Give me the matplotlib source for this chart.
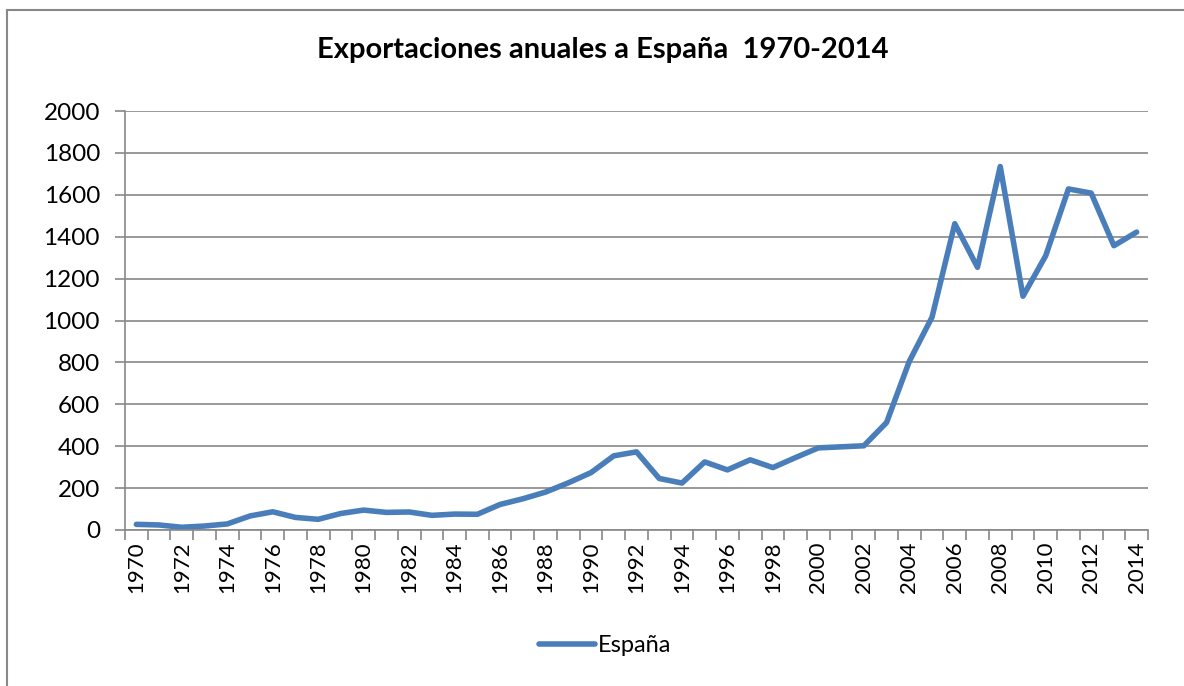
import numpy as np
import matplotlib.pyplot as plt
from matplotlib.patches import Rectangle

# Datos
anios = list(range(1970, 2015))
espana = [27, 24, 13, 19, 29, 67, 87, 60, 51, 79,
          95, 84, 86, 70, 76, 75, 122, 149, 181, 225,
          274, 354, 373, 246, 224, 325, 287, 335, 298, 346,
          392, 397, 402, 513, 805, 1016, 1462, 1254, 1735, 1116,
          1309, 1628, 1608, 1357, 1422]
etiquetas = [str(a) if a % 2 == 0 else '' for a in anios]

plt.rcParams['font.family'] = ['Lato', 'DejaVu Sans']

fig = plt.figure(figsize=(11.84, 6.86), dpi=100)
ax = fig.add_axes([125/1184, 1 - 530/686, (1148-125)/1184, (530-111)/686])

x = np.arange(len(anios))
ax.plot(x, espana, color='#4A7EBB', linewidth=4, solid_capstyle='round', label='España')

ax.set_xlim(-0.5, len(anios) - 0.5)
ax.set_ylim(0, 2000)
ax.set_yticks(range(0, 2001, 200))
ax.set_xticks(x)
ax.set_xticklabels(etiquetas, rotation=90, fontsize=16)
ax.set_xticks(np.arange(-0.5, len(anios)), minor=True)
ax.tick_params(axis='x', which='major', length=0, pad=8)
ax.tick_params(axis='x', which='minor', length=7, color='#888888', width=1.2)
ax.tick_params(axis='y', length=7, color='#888888', width=1.2, labelsize=17.5, pad=11)

ax.grid(axis='y', color='#888888', linewidth=1.2)
ax.set_axisbelow(True)
for s in ['top', 'right']:
    ax.spines[s].set_visible(False)
for s in ['left', 'bottom']:
    ax.spines[s].set_color('#888888')
    ax.spines[s].set_linewidth(1.2)

fig.text(603/1184, 1 - 50/686, 'Exportaciones anuales a España  1970-2014',
         ha='center', va='center', fontsize=21, fontweight='bold')

fig.legend(loc='center', bbox_to_anchor=(605/1184, 1 - 646/686), frameon=False,
           fontsize=17, handlelength=2.4, handletextpad=0.1)

# marco del gráfico
fig.patches.append(Rectangle((7/1184, -0.5), 1.5, 1.5 - 10/686, transform=fig.transFigure,
                             fill=False, edgecolor='#888888', linewidth=1.5))

fig.savefig('out.png', dpi=100)
